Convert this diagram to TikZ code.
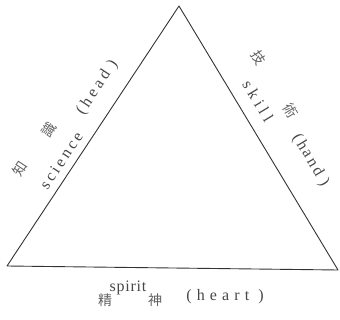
\documentclass[tikz,border=0pt]{standalone}
\usepackage{fontspec}
\setmainfont{Liberation Serif}
\newfontfamily\cjk{Noto Sans CJK JP}
\tikzset{
  edge/.style={draw=black!80, line width=0.9pt, line join=round},
  cj/.style={font=\cjk\fontsize{14}{14}\selectfont, text=black!62, inner sep=0pt, anchor=center},
  en/.style={font=\fontsize{16}{16}\selectfont, text=black!72, inner sep=0pt, anchor=center},
}
\begin{document}
\begin{tikzpicture}[x=1pt,y=-1pt]
\useasboundingbox (0,0) rectangle (340,320);
\coordinate (A) at (179,6);
\coordinate (BL) at (7,266);
\coordinate (BR) at (338,270);
\draw[edge] (A) -- (BR) -- (BL) -- cycle;
% left side
\node[cj, rotate=56.5] (zhi) at (19.6,168.4) {知};
\node[cj, rotate=56.5] (shi) at (48.6,129.5) {識};
\node[en, rotate=56.5] (sci) at (61.2,160.6) {\addfontfeature{LetterSpace=19}science};
\node[en, rotate=56.5] (head) at (97.5,87.5) {\addfontfeature{LetterSpace=22}(head )};
% right side
\node[cj, rotate=-59] (ji) at (258.6,57.4) {技};
\node[cj, rotate=-59] (shu) at (290.4,110.6) {術};
\node[en, rotate=-59] (skill) at (258.0,101.2) {\addfontfeature{LetterSpace=27}skill};
\node[en, rotate=-59] (hand) at (310.6,160.2) {\addfontfeature{LetterSpace=15}(hand )};
% bottom
\node[cj] (jing) at (105,300) {精};
\node[cj] (shen) at (155,300) {神};
\node[en] (spirit) at (128,288) {\addfontfeature{LetterSpace=5}spirit};
\node[en] (heart) at (225,296.5) {\addfontfeature{LetterSpace=32}(heart )};
\end{tikzpicture}
\end{document}
